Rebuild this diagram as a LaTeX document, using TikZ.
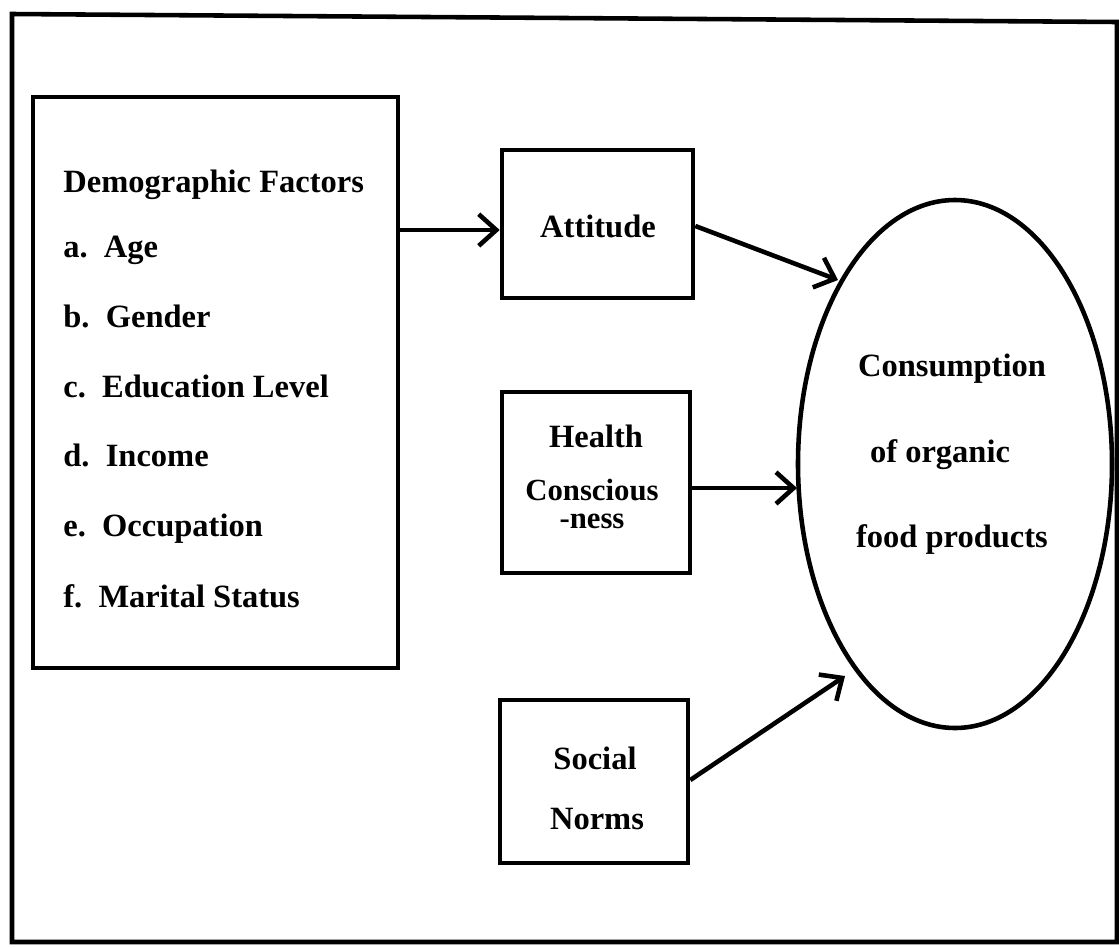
\documentclass[tikz,border=0pt]{standalone}
\usepackage{fontspec}
\setmainfont{Liberation Serif}
\usetikzlibrary{arrows.meta}
\begin{document}
\begin{tikzpicture}[x=0.02cm,y=-0.02cm,
  lw/.style={line width=2.6pt},
  boxn/.style={draw,lw,inner sep=0pt},
  txt/.style={font=\fontsize{18.5}{20}\selectfont\bfseries,inner sep=0pt},
  stxt/.style={font=\fontsize{17.5}{15}\selectfont\bfseries,inner sep=0pt},
  arr/.style={lw,-{Straight Barb[length=10pt,width=18pt,line width=2.6pt]}}]
\useasboundingbox (0,0) rectangle (1119,947);
% outer frame
\draw[lw] (12,14) -- (1117,22) -- (1117,942) -- (12,942) -- cycle;
% demographic box
\node[boxn,minimum width=365*0.02cm,minimum height=571*0.02cm] (demo) at (215.5,382.5) {};
\node[txt,anchor=base west] (d0) at (63,192) {Demographic Factors};
\node[txt,anchor=base west] (d1) at (63,257) {a.\ \ Age};
\node[txt,anchor=base west] (d2) at (63,327) {b.\ \ Gender};
\node[txt,anchor=base west] (d3) at (63,397) {c.\ \ Education Level};
\node[txt,anchor=base west] (d4) at (63,466) {d.\ \ Income};
\node[txt,anchor=base west] (d5) at (63,536) {e.\ \ Occupation};
\node[txt,anchor=base west] (d6) at (63,607) {f.\ \ Marital Status};
% attitude
\node[boxn,minimum width=191*0.02cm,minimum height=148*0.02cm] (att) at (597.5,224) {};
\node[txt,anchor=base] (attt) at (598,237) {Attitude};
% health
\node[boxn,minimum width=188*0.02cm,minimum height=181*0.02cm] (hea) at (596,482.5) {};
\node[txt,anchor=base] (h1) at (596,447) {Health};
\node[stxt,anchor=base,text depth=0pt] (h2) at (592,500) {Conscious};
\node[stxt,anchor=base,text height=0.5em] (h3) at (592,528) {-ness};
% social norms
\node[boxn,minimum width=188*0.02cm,minimum height=163*0.02cm] (soc) at (594,781.5) {};
\node[txt,anchor=base] (s1) at (595,769) {Social};
\node[txt,anchor=base] (s2) at (597,829) {Norms};
% ellipse
\draw[lw] (955,464) ellipse [x radius=157*0.02cm, y radius=264*0.02cm];
\node[txt,anchor=base] (c1) at (952,376) {Consumption};
\node[txt,anchor=base] (c2) at (940,462) {of organic};
\node[txt,anchor=base] (c3) at (952,547) {food products};
% arrows
\coordinate (a1s) at (demo.east |- 0,230);
\coordinate (a1e) at (att.west |- 0,230);
\draw[arr] (a1s) -- (a1e);
\coordinate (a2s) at (att.east |- 0,226);
\coordinate (a2e) at (838,280);
\draw[arr] (a2s) -- (a2e);
\coordinate (a3s) at (hea.east |- 0,488);
\coordinate (a3e) at (797,488);
\draw[arr] (a3s) -- (a3e);
\coordinate (a4s) at (soc.east |- 0,780);
\coordinate (a4e) at (845,676);
\draw[arr] (a4s) -- (a4e);
\end{tikzpicture}
\end{document}
